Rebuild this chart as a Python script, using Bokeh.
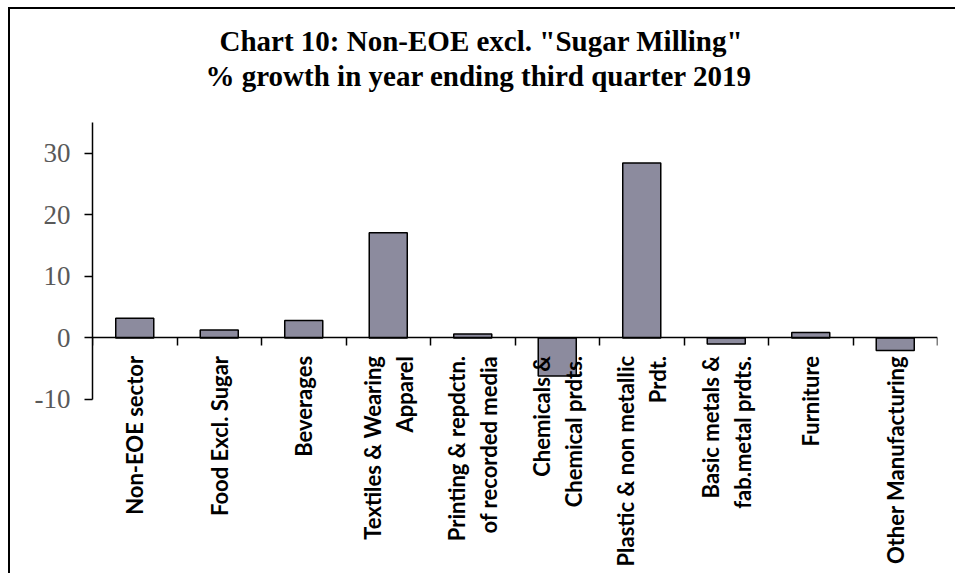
import math
from bokeh.plotting import figure
from bokeh.models import Range1d, LinearAxis, FixedTicker, ColumnDataSource, Title
from bokeh.embed import file_html
from bokeh.resources import INLINE

categories = [
    "Non-EOE sector",
    "Food Excl. Sugar",
    "Beverages",
    "Textiles & Wearing\nApparel",
    "Printing & repdctn.\nof recorded media",
    "Chemicals &\nChemical prdts.",
    "Plastic & non metallic\nPrdt.",
    "Basic metals &\nfab.metal prdts.",
    "Furniture",
    "Other Manufacturing",
]
growth = [3.2, 1.3, 2.85, 17.1, 0.65, -6.2, 28.4, -1.0, 0.9, -2.05]
y_ticks = [-10, 0, 10, 20, 30]
y_tick_labels = ["-10", "0", "10", "20", "30"]
title_line1 = 'Chart 10: Non-EOE excl. "Sugar Milling"'
title_line2 = "% growth in year ending third quarter 2019"

n = len(categories)
centers = [i + 0.5 for i in range(n)]
src = ColumnDataSource(dict(x=centers, val=growth))

p = figure(
    x_range=Range1d(0, n), y_range=Range1d(-38.6, 35),
    width=947, height=566, title=None,
    output_backend="svg", toolbar_location=None,
    min_border_left=82, min_border_right=20, min_border_top=113, min_border_bottom=0,
    margin=(7, 0, 0, 8),
    styles={"border-left": "2px solid black", "border-top": "2px solid black"},
)
p.outline_line_color = None
p.xgrid.visible = False
p.ygrid.visible = False

title_style = dict(align="left", text_font="Liberation Serif", text_font_size="29px",
                   text_font_style="bold", text_color="black")
p.add_layout(Title(text=title_line2, standoff=62, offset=113, **title_style), "above")
p.add_layout(Title(text=title_line1, standoff=-60, offset=127, **title_style), "above")

p.vbar(x="x", top="val", bottom=0, width=0.45, source=src,
       fill_color="#8C8B9E", line_color="black", line_width=1.5)

# y axis
yax = p.yaxis[0]
yax.bounds = (-10, 35)
yax.ticker = FixedTicker(ticks=y_ticks)
yax.major_label_overrides = dict(zip(y_ticks, y_tick_labels))
yax.major_tick_out = 8
yax.major_tick_in = 0
yax.minor_tick_line_color = None
yax.axis_line_width = 1.5
yax.major_tick_line_width = 1.5
yax.major_label_text_font = "Liberation Serif"
yax.major_label_text_font_size = "27px"
yax.major_label_text_color = "#595959"
yax.major_label_standoff = 14

# category labels axis at y = 0
xa = p.xaxis[0]
xa.ticker = FixedTicker(ticks=centers)
xa.major_label_overrides = dict(zip(centers, categories))
xa.fixed_location = 0
xa.axis_line_color = None
xa.major_tick_line_color = None
xa.minor_tick_line_color = None
xa.major_tick_out = 8
xa.major_label_orientation = math.pi / 2
xa.major_label_standoff = 10
xa.major_label_text_font = "Lato"
xa.major_label_text_font_style = "bold"
xa.major_label_text_font_size = "22px"
xa.major_label_text_color = "black"

# boundary ticks axis at y = 0
bounds_ticks = list(range(n + 1))
ax = LinearAxis(ticker=FixedTicker(ticks=bounds_ticks),
                major_label_overrides={t: "" for t in bounds_ticks},
                major_tick_out=8, major_tick_in=0,
                minor_tick_line_color=None, axis_line_width=1.5, major_tick_line_width=1.5)
ax.fixed_location = 0
p.add_layout(ax, "below")

open("out.html", "w").write(file_html(p, INLINE))
